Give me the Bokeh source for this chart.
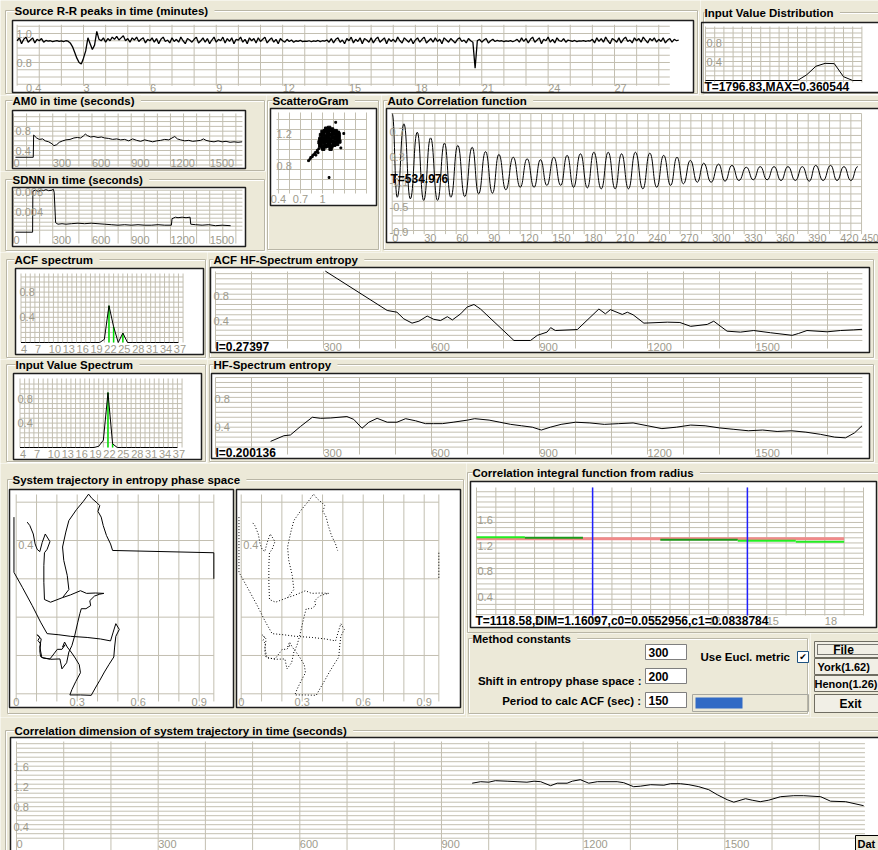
import numpy as np
from bokeh.plotting import figure
from bokeh.models import Range1d, BoxAnnotation, Label, ColumnDataSource
from bokeh.layouts import row, column
from bokeh.core.properties import value
from bokeh.embed import file_html
from bokeh.resources import INLINE

BEIGE = "#ece9d8"
GRID = "#c3bfb1"
GROUP = "#b9b6a6"
TICK = "#9e9b8d"
FONT = "Liberation Sans"
TITLE_SIZE = "11.5px"
TICK_SIZE = "11px"
NOTE_SIZE = "12px"

# ---------------- data ----------------
# R-R intervals (seconds), one value every 0.1 min
rr_step = 0.1
rr_values = [
    0.95, 0.97, 0.93, 0.96, 0.975, 0.94, 0.955, 0.97, 0.935, 0.96,
    0.95, 0.965, 0.94, 0.952, 0.947, 0.95, 0.944, 0.948, 0.951, 0.946,
    0.949, 0.944, 0.95, 0.947, 0.935, 0.91, 0.87, 0.83, 0.80, 0.79,
    0.83, 0.88, 0.97, 0.93, 0.89, 0.92, 1.015, 0.96, 0.95, 0.97,
    0.94, 0.965, 0.95, 0.975, 0.96, 0.98, 0.955, 0.97, 0.985, 0.95,
    0.965, 0.94, 0.97, 0.955, 0.975, 0.945, 0.96, 0.97, 0.935, 0.96,
    0.95, 0.97, 0.94, 0.965, 0.93, 0.96, 0.975, 0.945, 0.955, 0.935,
    0.97, 0.945, 0.96, 0.94, 0.975, 0.95, 0.93, 0.965, 0.955, 0.94,
    0.96, 0.975, 0.935, 0.95, 0.97, 0.94, 0.965, 0.93, 0.955, 0.975,
    0.94, 0.96, 0.95, 0.975, 0.935, 0.965, 0.945, 0.97, 0.93, 0.96,
    0.955, 0.975, 0.94, 0.96, 0.93, 0.97, 0.95, 0.965, 0.935, 0.97,
    0.945, 0.96, 0.975, 0.935, 0.955, 0.97, 0.94, 0.96, 0.93, 0.965,
    0.95, 0.94, 0.96, 0.945, 0.955, 0.94, 0.95, 0.946, 0.953, 0.944,
    0.948, 0.945, 0.95, 0.943, 0.949, 0.946, 0.952, 0.944, 0.95, 0.947,
    0.955, 0.94, 0.965, 0.935, 0.96, 0.97, 0.94, 0.955, 0.93, 0.965,
    0.95, 0.975, 0.935, 0.96, 0.945, 0.97, 0.93, 0.965, 0.955, 0.94,
    0.97, 0.935, 0.96, 0.975, 0.94, 0.955, 0.97, 0.93, 0.965, 0.945,
    0.96, 0.94, 0.975, 0.95, 0.935, 0.97, 0.955, 0.94, 0.965, 0.93,
    0.955, 0.97, 0.94, 0.96, 0.975, 0.935, 0.95, 0.965, 0.94, 0.97,
    0.945, 0.96, 0.93, 0.97, 0.955, 0.94, 0.965, 0.95, 0.935, 0.96,
    0.97, 0.945, 0.955, 0.935, 0.965, 0.95, 0.94, 0.76, 0.95, 0.96,
    0.94, 0.955, 0.965, 0.935, 0.95, 0.96, 0.945, 0.952, 0.947, 0.95,
    0.944, 0.949, 0.946, 0.951, 0.943, 0.95, 0.96, 0.94, 0.97, 0.945,
    0.965, 0.935, 0.96, 0.975, 0.94, 0.955, 0.97, 0.93, 0.96, 0.95,
    0.975, 0.94, 0.96, 0.935, 0.97, 0.95, 0.945, 0.965, 0.94, 0.955,
    0.95, 0.946, 0.952, 0.944, 0.949, 0.947, 0.951, 0.945, 0.95, 0.948,
    0.96, 0.935, 0.97, 0.945, 0.965, 0.94, 0.975, 0.95, 0.93, 0.965,
    0.955, 0.94, 0.97, 0.935, 0.96, 0.975, 0.945, 0.955, 0.935, 0.97,
    0.95, 0.965, 0.94, 0.975, 0.955, 0.935, 0.965, 0.95, 0.97, 0.94,
    0.96, 0.945, 0.97, 0.935, 0.955, 0.965, 0.94, 0.96, 0.95, 0.955,
]
rr_minutes = [round(i * rr_step, 1) for i in range(len(rr_values))]
rr_xticks = [0.4, 3, 6, 9, 12, 15, 18, 21, 24, 27]
rr_xlabels = ["0.4", "3", "6", "9", "12", "15", "18", "21", "24", "27"]
rr_yticks = [1.0, 0.8]
rr_ylabels = ["1.0", "0.8"]

# input value distribution
dist_bins = [0, 1, 2, 3, 4, 5, 6, 7, 8, 9, 10, 11, 12, 13, 14, 15, 16, 17]
dist_vals = [0, 0, 0, 0, 0, 0, 0, 0, 0, 0, 0, 0.12, 0.30, 0.360544, 0.355, 0.08, 0, 0]
dist_yticks = [0.8, 0.4]
dist_ylabels = ["0.8", "0.4"]
dist_note = "T=1796.83,MAX=0.360544"

# AM0 and SDNN over time (seconds)
am0_s = [15, 151, 154, 177, 197, 223, 243, 269, 294, 309, 330, 350, 376, 401, 432, 462,
         488, 513, 534, 549, 564, 590, 615, 646, 672, 697, 728, 758, 789, 819, 850, 881,
         911, 942, 972, 1003, 1034, 1064, 1095, 1125, 1156, 1187, 1212, 1233, 1253, 1278,
         1309, 1340, 1370, 1401, 1431, 1452, 1472, 1503, 1533, 1564, 1595, 1625, 1656,
         1686, 1717, 1748]
am0_v = [0.26, 0.26, 0.72, 0.66, 0.63, 0.64, 0.60, 0.58, 0.54, 0.50, 0.52, 0.57, 0.60, 0.62,
         0.63, 0.66, 0.67, 0.66, 0.70, 0.74, 0.71, 0.68, 0.69, 0.67, 0.68, 0.66, 0.65, 0.63,
         0.64, 0.62, 0.63, 0.60, 0.64, 0.61, 0.59, 0.62, 0.60, 0.58, 0.60, 0.61, 0.63, 0.62,
         0.66, 0.69, 0.64, 0.62, 0.60, 0.61, 0.59, 0.60, 0.61, 0.64, 0.61, 0.59, 0.58, 0.60,
         0.58, 0.59, 0.57, 0.58, 0.57, 0.58]
sdnn_s = [15, 146, 148, 167, 187, 207, 228, 248, 269, 294, 304, 311, 322, 340, 371, 401,
          442, 493, 544, 595, 646, 697, 748, 799, 850, 901, 952, 1003, 1054, 1105, 1156,
          1207, 1212, 1238, 1258, 1289, 1319, 1350, 1355, 1391, 1442, 1493, 1544, 1595, 1660]
sdnn_v = [0.0, 0.0, 0.0082, 0.0084, 0.0082, 0.0084, 0.0083, 0.0085, 0.0083, 0.0084, 0.0086,
          0.0080, 0.0019, 0.0016, 0.0017, 0.0016, 0.0017, 0.0018, 0.0017, 0.0018, 0.0017,
          0.0016, 0.0015, 0.0014, 0.0015, 0.0014, 0.0015, 0.0014, 0.0014, 0.0015, 0.0014,
          0.0014, 0.0027, 0.0030, 0.0029, 0.0030, 0.0029, 0.0030, 0.0016, 0.0015, 0.0014,
          0.0015, 0.0013, 0.0014, 0.0013]
sec_ticks = [0, 300, 600, 900, 1200, 1500]
sec_labels = ["0", "300", "600", "900", "1200", "1500"]
am0_yticks = [0.8, 0.4]
am0_ylabels = ["0.8", "0.4"]
sdnn_yticks = [0.008, 0.004]
sdnn_ylabels = ["0.008", "0.004"]

# scatterogram RR(n) / RR(n+1): dense core and sparse points
sc_core_x = [0.97, 1.00, 1.04, 1.08, 1.12, 1.16, 1.20, 0.96, 0.99, 1.02, 1.05, 1.09, 1.13,
             1.17, 1.21, 1.23, 0.97, 1.00, 1.04, 1.07, 1.10, 1.14, 1.18, 1.22, 0.98, 1.01,
             1.05, 1.08, 1.12, 1.15, 1.19, 1.22, 1.00, 1.03, 1.07, 1.10, 1.14, 1.18, 1.21,
             1.05, 1.09, 1.13, 1.01, 1.11]
sc_core_y = [1.05, 1.03, 1.04, 1.05, 1.04, 1.06, 1.07, 1.09, 1.10, 1.08, 1.10, 1.09, 1.10,
             1.09, 1.11, 1.10, 1.13, 1.14, 1.13, 1.15, 1.13, 1.15, 1.14, 1.15, 1.18, 1.19,
             1.17, 1.19, 1.18, 1.20, 1.18, 1.19, 1.22, 1.23, 1.22, 1.24, 1.22, 1.23, 1.21,
             1.26, 1.27, 1.25, 1.01, 1.01]
sc_sparse_x = [0.95, 0.93, 0.92, 0.90, 0.89, 0.87, 0.86, 0.84, 0.83, 0.81, 0.94, 0.91,
               1.18, 1.29, 1.09, 1.25]
sc_sparse_y = [1.01, 0.99, 0.97, 0.96, 0.94, 0.93, 0.91, 0.90, 0.88, 0.86, 0.96, 0.93,
               1.34, 1.20, 0.65, 1.02]
sc_xticks = [0.4, 0.7, 1.0]
sc_xlabels = ["0.4", "0.7", "1"]
sc_yticks = [1.2, 0.8]
sc_ylabels = ["1.2", "0.8"]

# autocorrelation: successive maxima and minima
acf_peak_lag = [0, 11, 23.5, 36, 49, 61.5, 75, 87.5, 100, 113.5, 126.5, 139, 151.5, 164,
                176.5, 189, 202.5, 215, 228, 241.5, 254.5, 267, 279.5, 292, 306, 318.5, 332,
                345, 358, 371, 384.5, 397, 411, 423.5, 436.5]
acf_peak_val = [1.0, 0.835, 0.70, 0.61, 0.525, 0.49, 0.46, 0.39, 0.345, 0.30, 0.275, 0.26,
                0.30, 0.33, 0.355, 0.38, 0.38, 0.355, 0.38, 0.365, 0.33, 0.30, 0.25, 0.205,
                0.19, 0.17, 0.14, 0.15, 0.15, 0.15, 0.15, 0.17, 0.17, 0.15, 0.15]
acf_trough_lag = [4.7, 17, 29.5, 42.5, 55, 68, 81, 94, 106.5, 120, 133, 145, 158, 170, 183,
                  196, 209, 221.5, 235, 248, 261, 273, 286, 299, 312, 325, 338.5, 351.5,
                  364.5, 378, 391, 404, 417, 430]
acf_trough_val = [-0.34, -0.365, -0.39, -0.39, -0.34, -0.33, -0.285, -0.275, -0.22, -0.18,
                  -0.18, -0.15, -0.15, -0.18, -0.19, -0.205, -0.205, -0.205, -0.205, -0.18,
                  -0.15, -0.125, -0.10, -0.10, -0.083, -0.072, -0.061, -0.061, -0.072,
                  -0.072, -0.083, -0.072, -0.072, -0.072]
acf_xticks = [0, 30, 60, 90, 120, 150, 180, 210, 240, 270, 300, 330, 360, 390, 420, 450]
acf_yticks = [0.7, 0.3, -0.1, -0.5, -0.9]
acf_ylabels = ["0.7", "0.3", "-0.1", "-0.5", "-0.9"]
acf_note = "T=534.976"

# spectra
spec_bins = [4, 5, 6, 7, 8, 9, 10, 11, 12, 13, 14, 15, 16, 17, 18, 19, 20, 21, 22, 23, 24,
             25, 26, 27, 28, 29, 30, 31, 32, 33, 34, 35, 36, 37, 38]
acf_spec = [0, 0, 0, 0, 0, 0, 0, 0, 0, 0, 0, 0, 0, 0, 0, 0, 0, 0, 0.05, 0.585, 0.25, 0.0,
            0.15, 0, 0, 0, 0, 0, 0, 0, 0, 0, 0, 0, 0]
in_spec = [0, 0, 0, 0, 0, 0, 0, 0, 0, 0, 0, 0, 0, 0, 0, 0, 0, 0.02, 0.12, 0.90, 0.06, 0,
           0, 0, 0, 0, 0, 0, 0, 0, 0, 0, 0, 0, 0]
acf_band_bins = [23, 24, 26]
in_band_bins = [23, 24]
spec_xticks = [4, 7, 10, 13, 16, 19, 22, 25, 28, 31, 34, 37]
spec_yticks = [0.8, 0.4]
spec_ylabels = ["0.8", "0.4"]

# spectrum entropy over time
acfent_s = [305, 477, 504, 523, 546, 565, 588, 606, 625, 644, 658, 681, 699, 718, 736, 829,
            875, 894, 921, 931, 944, 1005, 1065, 1083, 1097, 1130, 1144, 1160, 1190, 1255,
            1290, 1320, 1366, 1384, 1421, 1458, 1495, 1542, 1602, 1620, 1643, 1699, 1736,
            1773, 1796]
acfent_v = [1.18, 0.567, 0.54, 0.437, 0.37, 0.40, 0.48, 0.43, 0.41, 0.47, 0.42, 0.515, 0.62,
            0.66, 0.59, 0.10, 0.10, 0.18, 0.23, 0.30, 0.255, 0.27, 0.59, 0.515, 0.58, 0.505,
            0.54, 0.50, 0.37, 0.385, 0.38, 0.32, 0.35, 0.40, 0.245, 0.23, 0.255, 0.22, 0.18,
            0.21, 0.255, 0.235, 0.255, 0.265, 0.27397]
acfent_note = "I=0.27397"
hfent_s = [153, 190, 208, 236, 269, 292, 320, 365, 384, 407, 426, 449, 477, 504, 528, 556,
           583, 606, 630, 660, 700, 720, 760, 790, 820, 850, 880, 905, 930, 960, 1000, 1040,
           1080, 1120, 1160, 1200, 1240, 1280, 1320, 1360, 1400, 1440, 1480, 1520, 1560,
           1600, 1640, 1680, 1720, 1750, 1775, 1796]
hfent_v = [0.200136, 0.28, 0.29, 0.41, 0.54, 0.525, 0.53, 0.55, 0.51, 0.385, 0.47, 0.525,
           0.47, 0.47, 0.52, 0.49, 0.45, 0.45, 0.45, 0.47, 0.50, 0.52, 0.50, 0.47, 0.44, 0.42,
           0.40, 0.36, 0.40, 0.44, 0.47, 0.46, 0.44, 0.45, 0.46, 0.42, 0.38, 0.40, 0.43, 0.42,
           0.39, 0.37, 0.35, 0.36, 0.34, 0.35, 0.33, 0.30, 0.26, 0.25, 0.32, 0.42]
hfent_note = "I=0.200136"
ent_xticks = [300, 600, 900, 1200, 1500]
ent_xlabels = ["300", "600", "900", "1200", "1500"]
ent_yticks = [0.8, 0.4]
ent_ylabels = ["0.8", "0.4"]
record_end = 1796.83

# trajectory in entropy phase space
traj1_x = [-0.011, -0.011, 0.030, 0.079, 0.120, 0.152, 0.210, 0.267, 0.349, 0.415, 0.464,
           0.477, 0.490, 0.507, 0.490, 0.484, 0.480, 0.457, 0.434, 0.411, 0.389, 0.369,
           0.316, 0.264, 0.274, 0.293, 0.316, 0.310, 0.287, 0.270, 0.251, 0.238, 0.228,
           0.241, 0.225, 0.202, 0.185, 0.166, 0.133, 0.120, 0.116, 0.120, 0.107, 0.116,
           0.103, 0.123, 0.116, 0.126, 0.169, 0.215, 0.225, 0.248, 0.259, 0.274, 0.287,
           0.303, 0.313, 0.320, 0.343, 0.366, 0.362, 0.385, 0.411, 0.431, 0.390, 0.346,
           0.316, 0.267, 0.228, 0.169, 0.139, 0.136, 0.136, 0.139, 0.152, 0.166, 0.143,
           0.128, 0.116, 0.103, 0.093, 0.084, 0.067, 0.054]
traj1_y = [0.461, 0.317, 0.278, 0.230, 0.187, 0.157, 0.154, 0.150, 0.147, 0.143, 0.138,
           0.161, 0.183, 0.168, 0.150, 0.122, 0.096, 0.077, 0.057, 0.035, 0.015, -0.004,
           -0.003, -0.003, 0.011, 0.032, 0.055, 0.076, 0.096, 0.109, 0.122, 0.135, 0.122,
           0.128, 0.116, 0.116, 0.104, 0.091, 0.093, 0.097, 0.112, 0.130, 0.139, 0.148,
           0.154, 0.143, 0.122, 0.095, 0.090, 0.091, 0.065, 0.081, 0.109, 0.126, 0.150,
           0.187, 0.209, 0.222, 0.222, 0.230, 0.243, 0.255, 0.260, 0.262, 0.263, 0.262,
           0.269, 0.258, 0.251, 0.239, 0.246, 0.291, 0.335, 0.368, 0.377, 0.397, 0.417,
           0.395, 0.371, 0.377, 0.391, 0.417, 0.439, 0.448]
traj2_x = [0.228, 0.259, 0.251, 0.234, 0.228, 0.244, 0.259, 0.297, 0.330, 0.356, 0.372,
           0.398, 0.411, 0.402, 0.418, 0.428, 0.444, 0.464, 0.474]
traj2_y = [0.251, 0.272, 0.309, 0.348, 0.383, 0.422, 0.452, 0.481, 0.502, 0.521, 0.510,
           0.498, 0.491, 0.476, 0.461, 0.439, 0.413, 0.391, 0.374]
traj3_x = [0.972, 0.972]
traj3_y = [0.368, 0.300]
traj_xticks = [0, 0.3, 0.6, 0.9]
traj_xlabels = ["0", "0.3", "0.6", "0.9"]
traj_yticks = [0.4]
traj_ylabels = ["0.4"]

# correlation integral vs radius
ci_level = 1.305
ci_level_span = [0, 19]
ci_seg_start = [0, 2.5, 9.5, 13.5, 16.5]
ci_seg_end = [2.5, 5.5, 13.5, 16.5, 19]
ci_seg_val = [1.33, 1.32, 1.29, 1.275, 1.26]
ci_seg_color = ["#22ee22", "#1a9a1a", "#1a9a1a", "#22ee22", "#22ee22"]
ci_bounds = [6, 14]
ci_xticks = [3, 6, 9, 12, 15, 18]
ci_xlabels = ["3", "6", "9", "12", "15", "18"]
ci_yticks = [1.6, 1.2, 0.8, 0.4]
ci_ylabels = ["1.6", "1.2", "0.8", "0.4"]
ci_note = "T=1118.58,DIM=1.16097,c0=0.0552956,c1=0.0838784"

# correlation dimension over time
cd_s = [965, 983, 1000, 1014, 1039, 1060, 1081, 1096, 1110, 1131, 1145, 1166, 1177, 1194,
        1212, 1230, 1272, 1286, 1307, 1321, 1343, 1371, 1385, 1406, 1424, 1445, 1466, 1484,
        1505, 1519, 1544, 1558, 1575, 1593, 1618, 1646, 1667, 1703, 1724, 1756, 1794]
cd_v = [1.28, 1.31, 1.30, 1.33, 1.32, 1.31, 1.30, 1.32, 1.31, 1.23, 1.28, 1.28, 1.32, 1.35,
        1.28, 1.31, 1.31, 1.29, 1.21, 1.22, 1.25, 1.24, 1.27, 1.27, 1.25, 1.21, 1.15, 1.05,
        0.95, 0.90, 0.97, 0.94, 0.91, 0.94, 1.01, 1.03, 1.03, 1.01, 0.92, 0.91, 0.83]
cd_yticks = [1.6, 1.2, 0.8, 0.4]
cd_ylabels = ["1.6", "1.2", "0.8", "0.4"]

# method constants
embed_dim = "300"
phase_shift = "200"
acf_period = "150"


def steps(start, step, count):
    return [round(start + i * step, 6) for i in range(count)]


class Panel:
    """One tile of the window; white chart areas are drawn as underlay boxes."""

    def __init__(self, tile, frame, xmap, ymap):
        ox, oy, ox2, oy2 = tile
        self.tile = tile
        self.frame = frame
        (xa, pa), (xb, pb) = xmap
        (ya, qa), (yb, qb) = ymap
        self.kx = (pb - pa) / (xb - xa)
        self.cx = pa - self.kx * xa
        self.ky = (qb - qa) / (yb - ya)
        self.cy = qa - self.ky * ya
        self.p = figure(width=ox2 - ox, height=oy2 - oy,
                        x_range=Range1d(self.vx(ox), self.vx(ox2)),
                        y_range=Range1d(self.vy(oy2), self.vy(oy)),
                        x_axis_type=None, y_axis_type=None, title=None,
                        output_backend="svg", toolbar_location=None,
                        min_border=0, min_border_left=0, min_border_right=0,
                        min_border_top=0, min_border_bottom=0,
                        background_fill_color=BEIGE, border_fill_color=BEIGE,
                        outline_line_color=None)
        if frame is not None:
            L, T, R, B = frame
            self.box(L, T, R, B, fill="white", level="underlay")

    def vx(self, px):
        return (px - self.cx) / self.kx

    def vy(self, py):
        return (py - self.cy) / self.ky

    def sx(self, px):
        return px - self.tile[0]

    def sy(self, py):
        return self.tile[3] - py

    def box(self, x0, y0, x1, y1, line=None, fill=None, width=1, dash="solid", level="annotation"):
        b = BoxAnnotation(left=self.sx(x0), right=self.sx(x1),
                          top=self.sy(y0), bottom=self.sy(y1),
                          left_units="screen", right_units="screen",
                          top_units="screen", bottom_units="screen",
                          fill_color=fill, fill_alpha=1.0 if fill else 0.0,
                          line_color=line, line_alpha=1.0 if line else 0.0,
                          line_width=width, line_dash=dash, level=level)
        self.p.add_layout(b)

    def label(self, text, x, y, size=NOTE_SIZE, bold=True, color="black",
              align="left", bg=None, font=FONT):
        lab = Label(x=self.sx(x), y=self.sy(y), x_units="screen", y_units="screen",
                    text=text, text_font=font, text_font_size=size,
                    text_font_style="bold" if bold else "normal", text_color=color,
                    text_align=align, text_baseline="middle")
        if bg:
            lab.background_fill_color = bg
        self.p.add_layout(lab)

    def group(self, x0, y0, x1, y1, title=None, tx=None):
        self.box(x0 + 1, y0 + 1, x1 + 1, y1 + 1, line="white")
        self.box(x0, y0, x1, y1, line=GROUP)
        if title:
            self.label(" " + title + " ", tx - 3, y0, size=TITLE_SIZE, bg=BEIGE)

    def outline(self, ext_right=0, ext_bottom=0, frame=None):
        L, T, R, B = frame if frame else self.frame
        self.box(L, T, R + ext_right, B + ext_bottom, line="#1e1e1e", width=1.5)

    def vgrid(self, xs, v0, v1, color=GRID, width=1, xr="default"):
        xs = list(xs)
        self.p.segment(x0=xs, x1=xs, y0=[v0] * len(xs), y1=[v1] * len(xs),
                       line_color=color, line_width=width, x_range_name=xr)

    def hgrid(self, ys, u0, u1, color=GRID, width=1, xr="default"):
        ys = list(ys)
        self.p.segment(x0=[u0] * len(ys), x1=[u1] * len(ys), y0=ys, y1=ys,
                       line_color=color, line_width=width, x_range_name=xr)

    def texts(self, xs, ys, labels, color=TICK, size=TICK_SIZE, bold=False,
              align="left", baseline="middle", xr="default"):
        src = ColumnDataSource(dict(x=list(xs), y=list(ys), t=list(labels)))
        self.p.text(x="x", y="y", text="t", source=src, text_color=color,
                    text_font=value(FONT), text_font_size=size,
                    text_font_style="bold" if bold else "normal",
                    text_align=align, text_baseline=baseline, x_range_name=xr)

    def xlabels(self, ticks, labels, ypix, align="left"):
        self.texts(ticks, [self.vy(ypix)] * len(ticks), labels, align=align)

    def ylabels(self, ticks, labels, xpix, baseline="middle"):
        self.texts([self.vx(xpix)] * len(ticks), ticks, labels, baseline=baseline)


# ---------------- Source R-R peaks ----------------
rr = Panel((0, 0, 700, 95), (12, 20, 693, 92), ((3, 83.0), (27, 614.0)), ((1.0, 33), (0.8, 62)))
rr.group(5, 10, 697, 93, "Source R-R peaks in time (minutes)", 17)
rr.vgrid(range(0, 30), 0.64, 1.06)
rr.hgrid(steps(0.65, 0.05, 9), 0, 29.5)
rr.p.line(rr_minutes, rr_values, line_color="black", line_width=1.3)
rr.xlabels(rr_xticks, rr_xlabels, 87)
rr.ylabels(rr_yticks, rr_ylabels, 16)
rr.outline()

# ---------------- Input value distribution ----------------
dist = Panel((700, 0, 878, 95), (701, 22, 878, 92), ((0, 705), (17, 861.4)), ((0, 80), (0.8, 42)))
dist.group(703, 12, 885, 93, "Input Value Distribution", 707)
dist.vgrid(dist_bins, dist.vy(82), dist.vy(26))
dist.hgrid(steps(0.0, 0.1, 12), 0, 17)
dist.p.line(dist_bins, dist_vals, line_color="black", line_width=1)
dist.ylabels(dist_yticks, dist_ylabels, 706)
dist.label(dist_note, 704, 86)
dist.outline(ext_right=6)

# ---------------- AM0 ----------------
am0 = Panel((0, 95, 266, 171), (12, 110, 245, 168), ((0, 13), (1500, 209.2)), ((0.8, 130.7), (0.4, 150)))
am0.group(5, 100, 264, 170, "AM0 in time (seconds)", 15)
am0.vgrid(range(0, 1800, 100), am0.vy(166), am0.vy(113))
am0.hgrid(steps(0.1, 0.1, 11), 0, 1750)
am0.p.line(am0_s, am0_v, line_color="black", line_width=1)
am0.xlabels(sec_ticks, sec_labels, 162.5)
am0.ylabels(am0_yticks, am0_ylabels, 15)
am0.outline()

# ---------------- SDNN ----------------
sdnn = Panel((0, 171, 266, 252), (12, 187, 245, 246), ((0, 13), (1500, 209.2)), ((0.008, 191.7), (0.004, 211.7)))
sdnn.group(5, 179, 264, 250, "SDNN in time (seconds)", 15)
sdnn.vgrid(range(0, 1800, 100), sdnn.vy(243), sdnn.vy(190))
sdnn.hgrid(steps(0.0004, 0.0008, 11), 0, 1750)
sdnn.p.line(sdnn_s, sdnn_v, line_color="black", line_width=1)
sdnn.xlabels(sec_ticks, sec_labels, 239)
sdnn.ylabels(sdnn_yticks, sdnn_ylabels, 15)
sdnn.outline()

# ---------------- ScatteroGram ----------------
sc = Panel((266, 95, 381, 252), (270, 108, 376, 205), ((0.7, 300), (1.0, 322)), ((1.2, 133), (0.8, 165)))
sc.group(267, 100, 378, 249, "ScatteroGram", 275)
sc.vgrid(steps(0.4, 0.15, 9), sc.vy(193), sc.vy(112))
sc.hgrid(steps(0.5, 0.125, 8), sc.vx(276), sc.vx(366))
sc.p.scatter(sc_core_x, sc_core_y, marker="square", size=3.4, color="black")
sc.p.scatter(sc_sparse_x, sc_sparse_y, marker="square", size=1.8, color="black")
sc.xlabels(sc_xticks, sc_xlabels, 198, align="center")
sc.ylabels(sc_yticks, sc_ylabels, 276)
sc.outline()

# ---------------- Auto correlation ----------------
acf_lag, acf_val = [], []
for i in range(len(acf_peak_lag)):
    acf_lag.append(acf_peak_lag[i])
    acf_val.append(acf_peak_val[i])
    if i < len(acf_trough_lag):
        acf_lag.append(acf_trough_lag[i])
        acf_val.append(acf_trough_val[i])

acf = Panel((381, 95, 878, 252), (386, 108, 878, 242), ((0, 391.7), (450, 871.7)), ((1.0, 113), (-0.9, 231.75)))
acf.group(383, 100, 885, 249, "Auto Correlation function", 390)
acf.vgrid(range(0, 450, 10), -0.93, 1.0)
acf.hgrid(steps(1.0, -0.117, 17), 0, 440)
# each half swing between an extreme and the next drawn as a smooth curve
mids = [(a + b) / 2 for a, b in zip(acf_lag[:-1], acf_lag[1:])]
acf.p.bezier(x0=acf_lag[:-1], y0=acf_val[:-1], x1=acf_lag[1:], y1=acf_val[1:],
             cx0=mids, cy0=acf_val[:-1], cx1=mids, cy1=acf_val[1:],
             line_color="black", line_width=1)
acf.xlabels(acf_xticks[:-1], [str(t) for t in acf_xticks[:-1]], 237)
# last tick label kept inside the window edge
acf.texts([acf.vx(878)], [acf.vy(237)], [str(acf_xticks[-1])], align="right", size="10px")
acf.ylabels(acf_yticks, acf_ylabels, 389)
acf.label(acf_note, 390, 178)
acf.outline(ext_right=6)


# ---------------- spectra ----------------
def spectrum(tile, frame, xmap, ymap, title, tx, group_box, vals, band, label_y):
    P = Panel(tile, frame, xmap, ymap)
    P.group(*group_box, title, tx)
    P.vgrid(range(4, 40), 0, P.vy(frame[1] + 5))
    P.hgrid(steps(0.08, 0.08, 13), 4, 39)
    lookup = dict(zip(spec_bins, vals))
    heights = [lookup[b] for b in band]
    P.p.segment(x0=band, x1=band, y0=[0] * len(band), y1=heights,
                line_color="#00dd00", line_width=1.5)
    P.p.line(spec_bins, vals, line_color="black", line_width=1)
    P.xlabels(spec_xticks, [str(t) for t in spec_xticks], label_y)
    P.ylabels(spec_yticks, spec_ylabels, frame[0] + 4)
    P.outline()
    return P


acfs = spectrum((0, 252, 207, 359), (15, 268, 203, 354), ((4, 20.5), (37, 173.3)),
                ((0, 342), (0.8, 291.6)), "ACF spectrum", 17, (6, 259, 205, 357),
                acf_spec, acf_band_bins, 348)
ins = spectrum((0, 359, 207, 463), (13, 373, 201, 459), ((4, 19.5), (37, 172.3)),
               ((0, 447), (0.8, 398.2)), "Input Value Spectrum", 18, (6, 364, 205, 461),
               in_spec, in_band_bins, 453)


# ---------------- spectrum entropy ----------------
def entropy(tile, frame, ymap, title, group_box, s, v, note, hlines, label_y):
    P = Panel(tile, frame, ((300, 323), (1500, 755)), ymap)
    P.group(*group_box, title, 216)
    P.vgrid(range(0, 1800, 100), P.vy(frame[3] - 4), P.vy(frame[1] + 4))
    P.hgrid(hlines, 0, record_end)
    P.p.line(s, v, line_color="black", line_width=1)
    P.xlabels(ent_xticks, ent_xlabels, label_y)
    P.ylabels(ent_yticks, ent_ylabels, frame[0] + 3)
    P.label(note, 215, label_y)
    P.outline()
    return P


acfe = entropy((207, 252, 878, 359), (210, 267, 869, 352), ((0.8, 295), (0.4, 320.7)),
               "ACF HF-Spectrum entropy", (209, 259, 873, 357), acfent_s, acfent_v,
               acfent_note, steps(0.1, 0.08, 14), 346.5)
hfe = entropy((207, 359, 878, 463), (211, 373, 869, 458), ((0.8, 398.3), (0.4, 426.7)),
              "HF-Spectrum entropy", (209, 364, 873, 461), hfent_s, hfent_v,
              hfent_note, steps(0.12, 0.07, 15), 452.5)

# ---------------- trajectory (two views, one group box) ----------------
LEFT_X0, RIGHT_X0 = 15.7, 240.7
tr = Panel((0, 463, 466, 717), (9, 489, 233, 707), ((0, LEFT_X0), (0.9, LEFT_X0 + 183)),
           ((0, 693.3), (0.4, 540)))
right_frame = (236, 489, 460, 707)
tr.box(*right_frame, fill="white", level="underlay")
tr.p.extra_x_ranges = {"right": Range1d((0 - RIGHT_X0) / tr.kx, (466 - RIGHT_X0) / tr.kx)}
tr.group(7, 479, 463, 713, "System trajectory in entropy phase space", 15)
for name in ("default", "right"):
    tr.vgrid(steps(0.0, 0.1, 10) + [0.972], -0.02, 0.52, xr=name)
    tr.hgrid(steps(0.0, 0.1, 6), 0, 0.972, xr=name)
    tr.texts(traj_xticks, [tr.vy(701.5)] * len(traj_xticks), traj_xlabels,
             align="center", xr=name)
    tr.texts([2 / tr.kx] * len(traj_yticks), traj_yticks, traj_ylabels,
             baseline="top", xr=name)
tr.p.line(traj1_x, traj1_y, line_color="black", line_width=1)
tr.p.line(traj2_x + traj3_x, traj2_y + traj3_y, line_color="black", line_width=1)
for xs, ys in ((traj1_x, traj1_y), (traj2_x, traj2_y), (traj3_x, traj3_y)):
    tr.p.line(xs, ys, line_color="black", line_width=1, line_dash="1 2", x_range_name="right")
tr.outline()
tr.outline(frame=right_frame)

# ---------------- correlation integral ----------------
ci = Panel((466, 463, 878, 633), (470, 481, 876, 627), ((0, 476), (18, 824.3)), ((1.2, 545), (1.6, 519.4)))
ci.group(467, 472, 885, 632, "Correlation integral function from radius", 475)
ci.vgrid(range(0, 21), ci.vy(615), ci.vy(487))
ci.hgrid(steps(0.12, 0.08, 25), 0, 20)
ci.p.line(ci_level_span, [ci_level, ci_level], line_color="#f08a8a", line_width=3)
ci.p.segment(x0=ci_seg_start, x1=ci_seg_end, y0=ci_seg_val, y1=ci_seg_val,
             line_color=ci_seg_color, line_width=2)
ci.vgrid(ci_bounds, ci.vy(615), ci.vy(487), color="#2020ff", width=1.5)
ci.xlabels(ci_xticks, ci_xlabels, 620)
ci.ylabels(ci_yticks, ci_ylabels, 477)
ci.label(ci_note, 475, 620)
ci.outline()

# ---------------- method constants ----------------
mc = Panel((466, 633, 810, 717), None, ((0, 466), (1, 810)), ((0, 717), (1, 633)))
mc.group(468, 638, 807, 713, "Method constants", 475)
for y0, txt in ((644, embed_dim), (668, phase_shift), (692, acf_period)):
    mc.box(645, y0, 686, y0 + 15, line="#7f7f7f", fill="white")
    mc.label(txt, 648, y0 + 7.5)
mc.label("Use Eucl. metric", 700, 656.5, size=TITLE_SIZE)
mc.box(797, 651, 808, 662, line="#1c5180", fill="white")
mc.label("\u2714", 802.5, 656.5, size="9px", bold=False, align="center", font="DejaVu Sans")
mc.label("Shift in entropy phase space :", 641, 680, size=TITLE_SIZE, align="right")
mc.label("Period to calc ACF (sec) :", 641, 700, size=TITLE_SIZE, align="right")
mc.box(692, 694, 808, 711, line="#a8a8a0")
mc.box(695, 697, 742, 708, fill="#316ac5")

# ---------------- buttons ----------------
bt = Panel((810, 633, 878, 717), None, ((0, 810), (1, 878)), ((0, 717), (1, 633)))
for y0, y1 in ((641, 657), (658, 674), (675, 691), (694, 712)):
    bt.box(814, y0, 886, y1, line="#6f6d62", fill="#f1efe6")
bt.box(817, 644, 886, 654, line="black", dash="1 1")
bt.label("File", 843, 649, align="center")
bt.label("York(1.62)", 817, 666, size="11px")
bt.label("Henon(1.26)", 814, 683, size="11px")
bt.label("Exit", 850, 703, align="center")

# ---------------- correlation dimension over time ----------------
cd = Panel((0, 717, 878, 850), (10, 737, 878, 850), ((0, 16), (1500, 724.3)), ((0.8, 806.7), (0.4, 826.7)))
cd.group(5, 730, 885, 860, "Correlation dimension of system trajectory in time (seconds)", 17)
cd.vgrid(range(0, 1800, 100), cd.vy(852), cd.vy(741))
cd.hgrid(steps(0.18, 0.09, 22), 0, record_end)
cd.p.line(cd_s, cd_v, line_color="black", line_width=1)
cd.xlabels(sec_ticks, sec_labels, 843)
cd.ylabels(cd_yticks, cd_ylabels, 13)
cd.outline(ext_right=6, ext_bottom=6)
cd.box(855, 835, 884, 856, line="black", fill=BEIGE)
cd.label("Dat", 857, 843, size="11px")

layout = column(
    row(rr.p, dist.p),
    row(column(am0.p, sdnn.p), sc.p, acf.p),
    row(acfs.p, acfe.p),
    row(ins.p, hfe.p),
    row(tr.p, column(ci.p, row(mc.p, bt.p))),
    cd.p,
)

open("out.html", "w").write(file_html(layout, INLINE, title="Entropy analysis"))
